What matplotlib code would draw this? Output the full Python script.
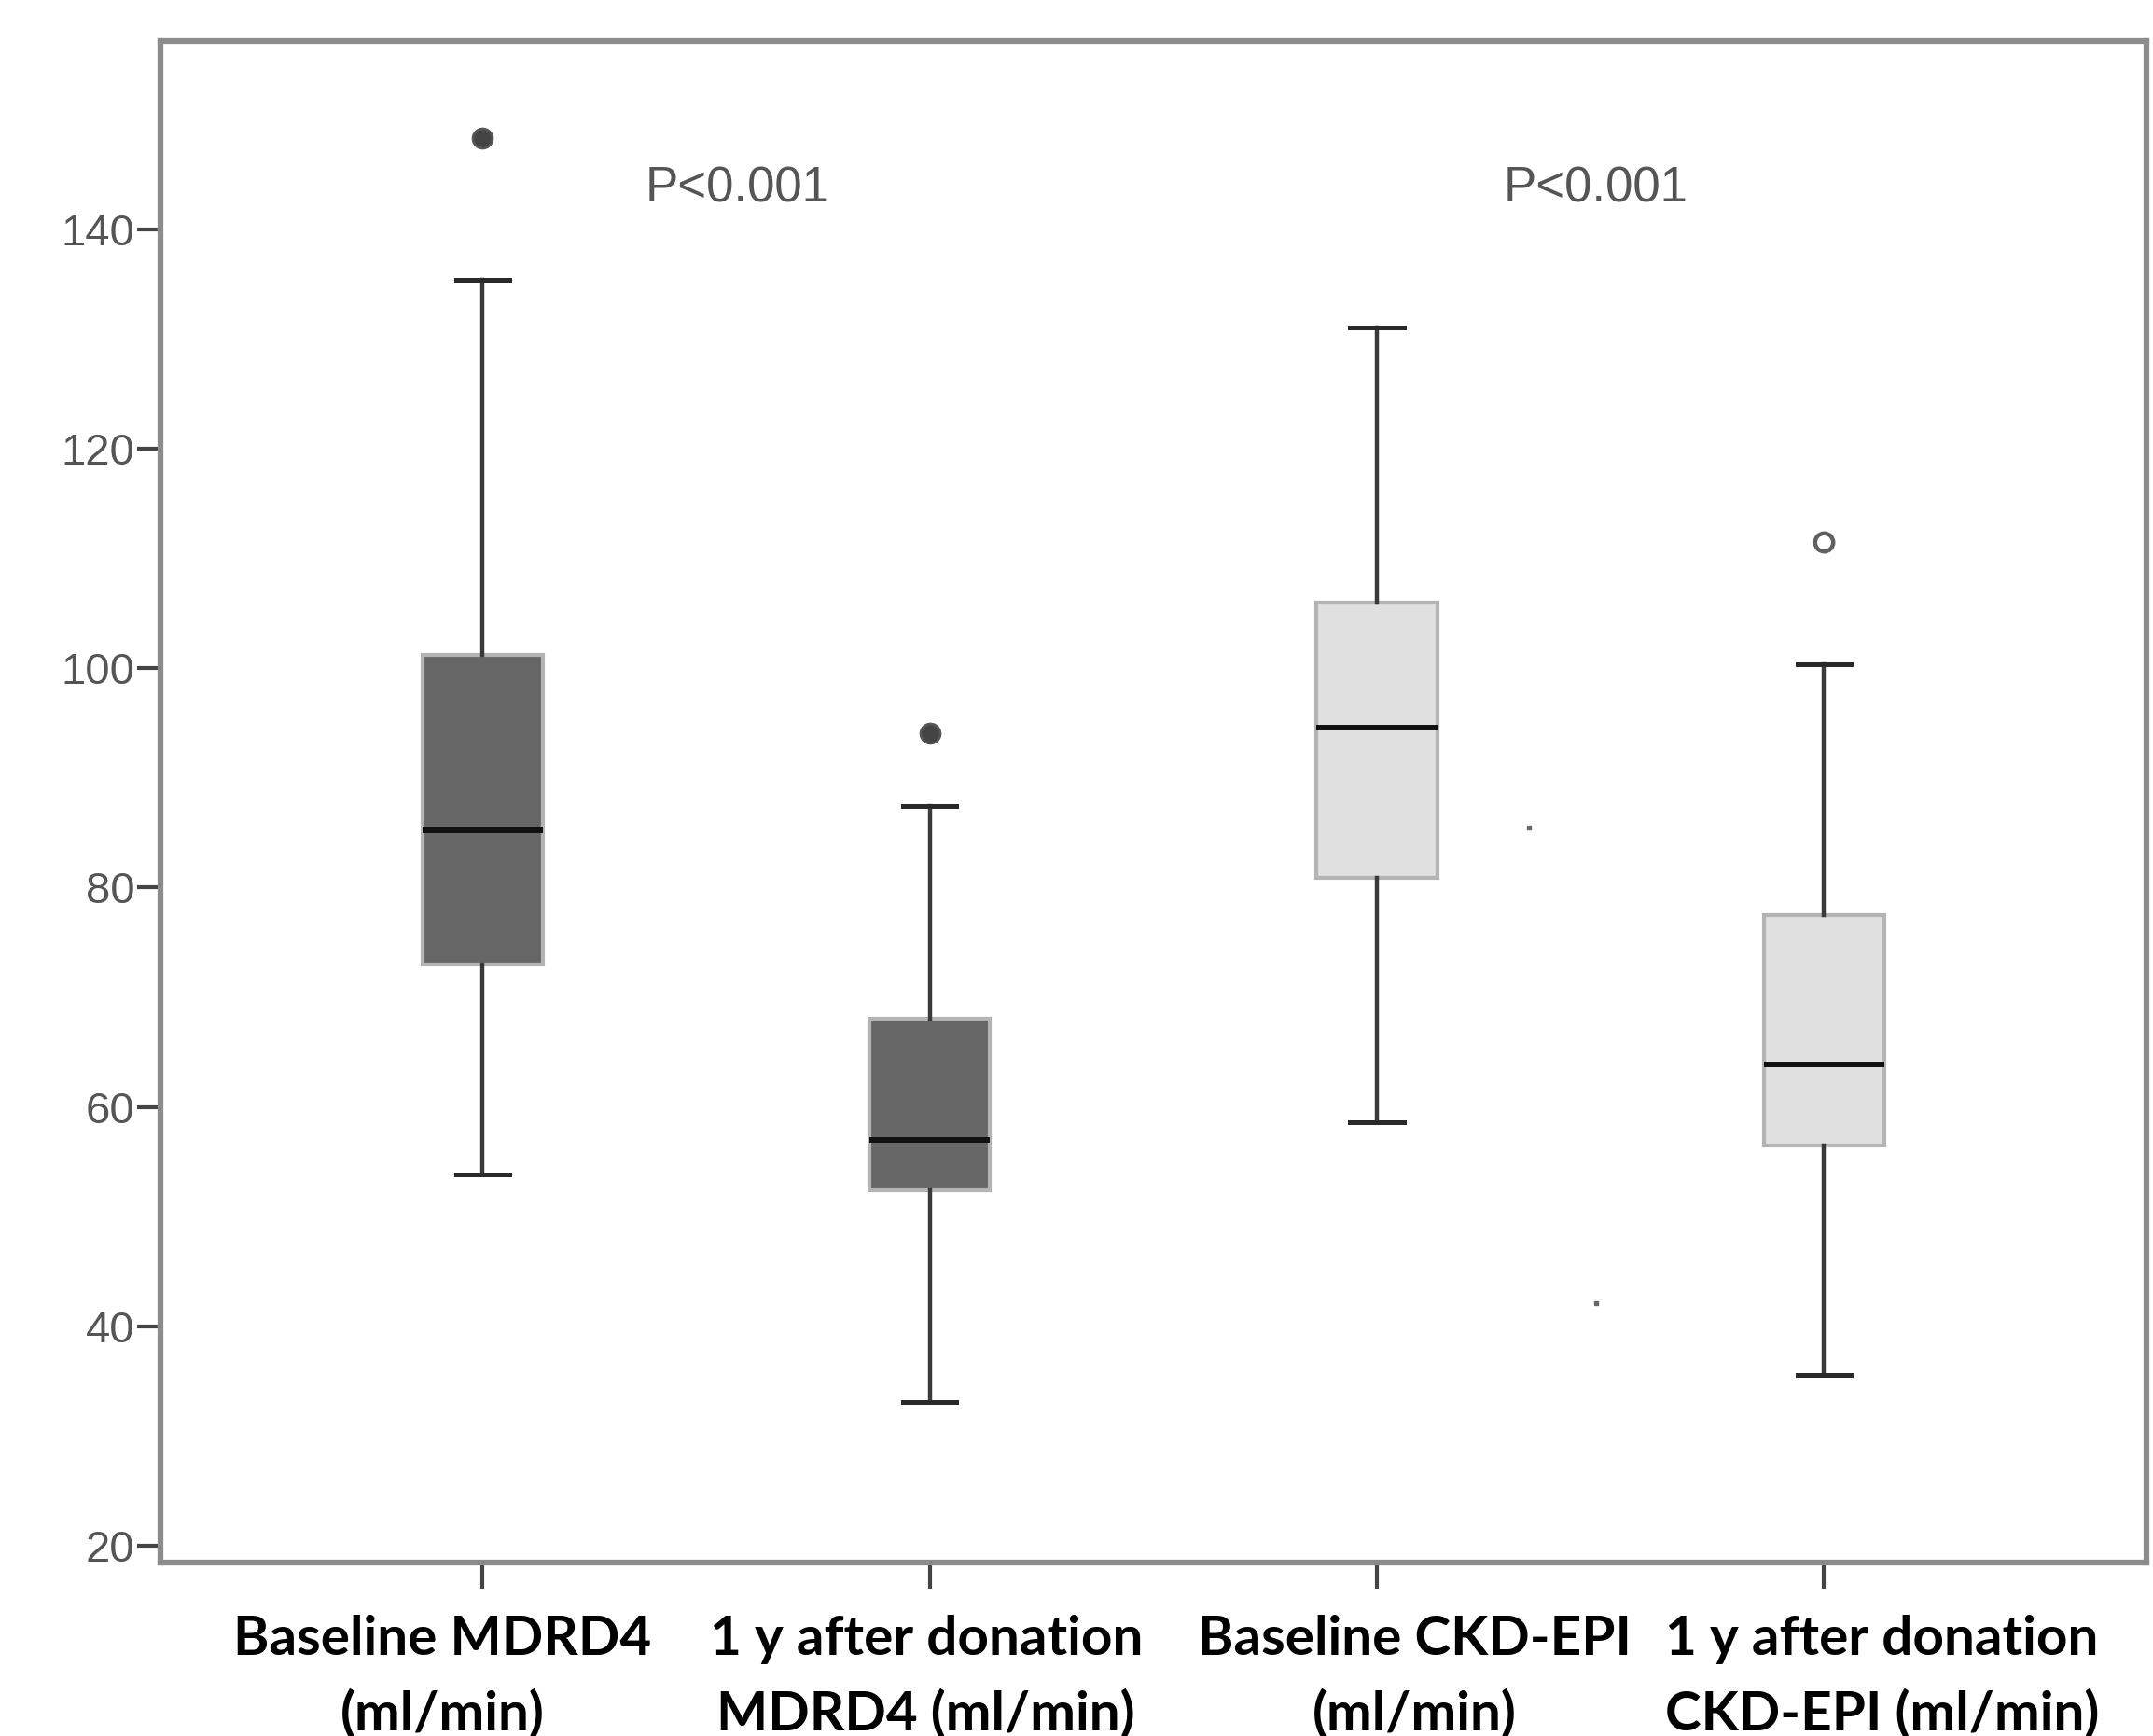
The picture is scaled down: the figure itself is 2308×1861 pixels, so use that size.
import numpy as np
import matplotlib
matplotlib.use('Agg')
import matplotlib.pyplot as plt
from matplotlib.transforms import ScaledTranslation

# groups on the x axis
labels = ['Baseline MDRD4\n(ml/min)', '1 y after donation\nMDRD4 (ml/min)',
          'Baseline CKD-EPI\n(ml/min)', '1 y after donation\nCKD-EPI (ml/min)']
whislo = [53.8, 33.1, 58.6, 35.5]
q1 = [73.0, 52.4, 80.9, 56.5]
med = [85.2, 57.0, 94.6, 63.9]
q3 = [101.2, 68.0, 106.0, 77.5]
whishi = [135.4, 87.4, 131.1, 100.4]
box_fill = ['#666666', '#666666', '#e0e0e0', '#e0e0e0']

# outliers: group index, value, filled?
out_x = [1, 2, 4]
out_y = [148.4, 94.1, 111.5]
out_filled = [True, True, False]

# stray specks in the original
speck_x = [3.34, 3.49]
speck_y = [85.5, 42.1]

p_text = ['P<0.001', 'P<0.001']
p_x = [1.57, 3.49]
p_y = [143.7, 143.7]

yticks = [20, 40, 60, 80, 100, 120, 140]

fig = plt.figure(figsize=(23.08, 18.61), dpi=100)
ax = fig.add_axes([0.0746, 0.0997, 0.9222, 0.8766])

stats = []
for i in range(len(labels)):
    stats.append(dict(whislo=whislo[i], q1=q1[i], med=med[i], q3=q3[i],
                      whishi=whishi[i], fliers=[], label=labels[i]))

bp = ax.bxp(stats, positions=[1, 2, 3, 4], widths=0.27, capwidths=0.12,
            showfliers=False, patch_artist=True,
            boxprops=dict(edgecolor='#b4b4b4', linewidth=3),
            whiskerprops=dict(color='#3a3a3a', linewidth=3.2),
            capprops=dict(color='#2a2a2a', linewidth=3.6),
            medianprops=dict(color='#111111', linewidth=4.3))
for patch, c in zip(bp['boxes'], box_fill):
    patch.set_facecolor(c)

for x, y, f in zip(out_x, out_y, out_filled):
    if f:
        ax.plot(x, y, 'o', ms=15, mfc='#444444', mec='#555555', mew=2, zorder=5)
    else:
        ax.plot(x, y, 'o', ms=14, mfc='white', mec='#606060', mew=3.2, zorder=5)

ax.plot(speck_x, speck_y, 's', ms=3, color='#666666', lw=0)

for t, x, y in zip(p_text, p_x, p_y):
    ax.text(x, y, t, ha='center', va='center', fontsize=38, color='#555555',
            family='Liberation Sans')

ax.set_xlim(0.28, 4.72)
ax.set_ylim(18.4, 157.2)
ax.set_yticks(yticks)
ax.set_yticklabels([str(v) for v in yticks], fontsize=34, color='#555555',
                   family='Liberation Sans')
ax.set_xticks([1, 2, 3, 4])
ax.set_xticklabels(labels, fontsize=42, color='black', family='Lato',
                   fontweight='bold', linespacing=1.6)
ax.tick_params(axis='y', length=18, width=3, color='#444444', pad=2)
ax.tick_params(axis='x', length=20, width=3, color='#444444', pad=20)

# the original labels sit a little off their ticks
label_shift = [-43, -4, 40, 62]
for lab, dx in zip(ax.get_xticklabels(), label_shift):
    lab.set_transform(lab.get_transform() + ScaledTranslation(dx / 100, 0, fig.dpi_scale_trans))

for s in ax.spines.values():
    s.set_color('#8c8c8c')
    s.set_linewidth(4.5)

fig.savefig('out.png', dpi=100)
